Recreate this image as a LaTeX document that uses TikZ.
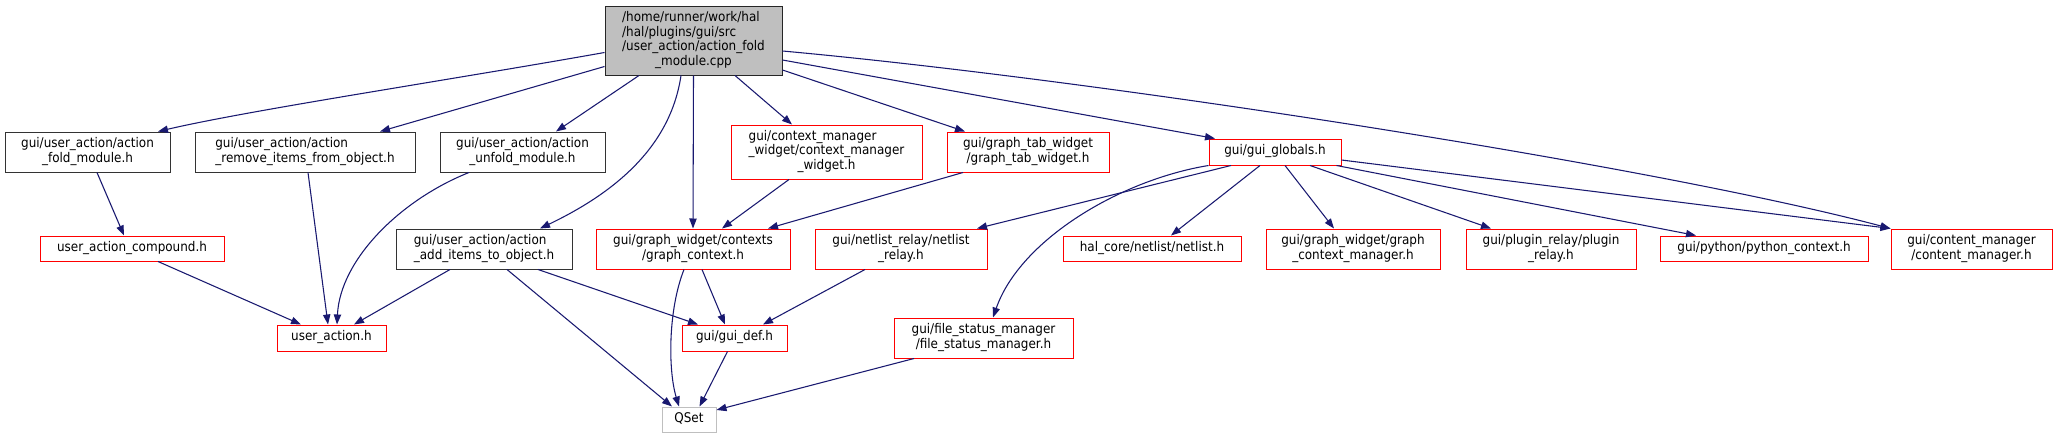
\documentclass[tikz,border=0pt]{standalone}
\usepackage{fontspec}
\setmainfont{DejaVu Sans}[FakeStretch=0.9]
\usetikzlibrary{arrows.meta,calc}
\definecolor{edgeblue}{HTML}{191970}
\definecolor{rootgray}{HTML}{BFBFBF}
\definecolor{qgray}{HTML}{BFBFBF}
\newcommand\lb[2]{\begin{tabular}{@{}l@{}}#1\multicolumn{1}{@{}c@{}}{#2}\end{tabular}}
\newcommand\nb[7]{\node[#6, minimum width={(#4-#2)*0.75pt}, minimum height={(#5-#3)*0.75pt}] (#1) at ({(#2+#4)/2},{(#3+#5)/2}) {#7};}
\begin{document}
\begin{tikzpicture}[x=0.75pt,y=-0.75pt,
  nbase/.style={rectangle, inner sep=0pt, line width=0.75pt, font=\fontsize{10}{10.7}\selectfont, fill=white},
  blk/.style={nbase, draw=black!80},
  redn/.style={nbase, draw=red},
  grayn/.style={nbase, draw=qgray},
  rootn/.style={nbase, draw=black!85, fill=rootgray},
  edge/.style={draw=edgeblue, line width=0.8pt, -{Triangle[length=7.5pt,width=5.5pt]}}
]
\useasboundingbox[fill=white] (0,0) rectangle (2057,439);

\nb{root}{605}{6}{782}{75}{rootn}{\lb{/home/runner/work/hal\\/hal/plugins/gui/src\\/user\_action/action\_fold\\}{\_module.cpp}}
\nb{fold}{5}{132}{170}{172}{blk}{\lb{gui/user\_action/action\\}{\_fold\_module.h}}
\nb{remove}{195}{132}{415}{172}{blk}{\lb{gui/user\_action/action\\}{\_remove\_items\_from\_object.h}}
\nb{unfold}{440}{132}{605}{172}{blk}{\lb{gui/user\_action/action\\}{\_unfold\_module.h}}
\nb{cmw}{731}{125}{922}{179}{redn}{\lb{gui/context\_manager\\\_widget/context\_manager\\}{\_widget.h}}
\nb{gtab}{947}{132}{1109}{172}{redn}{\lb{gui/graph\_tab\_widget\\}{/graph\_tab\_widget.h}}
\nb{globals}{1209}{139}{1341}{165}{redn}{\lb{}{gui/gui\_globals.h}}
\nb{compound}{40}{236}{224}{261}{redn}{\lb{}{user\_action\_compound.h}}
\nb{additems}{396}{229}{572}{269}{blk}{\lb{gui/user\_action/action\\}{\_add\_items\_to\_object.h}}
\nb{gctx}{596}{229}{790}{269}{redn}{\lb{gui/graph\_widget/contexts\\}{/graph\_context.h}}
\nb{nrelay}{815}{229}{987}{269}{redn}{\lb{gui/netlist\_relay/netlist\\}{\_relay.h}}
\nb{netlist}{1063}{236}{1241}{261}{redn}{\lb{}{hal\_core/netlist/netlist.h}}
\nb{gcm}{1266}{229}{1440}{269}{redn}{\lb{gui/graph\_widget/graph\\}{\_context\_manager.h}}
\nb{plugin}{1466}{229}{1636}{269}{redn}{\lb{gui/plugin\_relay/plugin\\}{\_relay.h}}
\nb{python}{1660}{236}{1868}{261}{redn}{\lb{}{gui/python/python\_context.h}}
\nb{content}{1891}{229}{2052}{269}{redn}{\lb{gui/content\_manager\\}{/content\_manager.h}}
\nb{useraction}{277}{325}{386}{351}{redn}{\lb{}{user\_action.h}}
\nb{guidef}{682}{325}{787}{351}{redn}{\lb{}{gui/gui\_def.h}}
\nb{fsm}{894}{318}{1073}{358}{redn}{\lb{gui/file\_status\_manager\\}{/file\_status\_manager.h}}
\nb{qset}{662}{407}{716}{432}{grayn}{\lb{}{QSet}}

% root edges
\draw[edge] ($(root.west)+(0,12)$) .. controls (450,80) and (250,110) .. ($(fold.north)+(70.5,0)$);
\draw[edge] ($(root.west)+(0,26)$) -- ($(remove.north)+(75,0)$);
\draw[edge] ($(root.south)+(-54.5,0)$) -- ($(unfold.north)+(33.5,0)$);
\draw[edge] ($(root.south)+(-12.5,0)$) .. controls (670,150) and (610,195) .. ($(additems.north)+(56,0)$);
\draw[edge] (root.south) -- (gctx.north);
\draw[edge] ($(root.south)+(41.5,0)$) -- ($(cmw.north)+(-34.5,0)$);
\draw[edge] ($(root.east)+(0,29.5)$) -- ($(gtab.north)+(-63,0)$);
\draw[edge] ($(root.east)+(0,19.5)$) -- ($(globals.north)+(-60,0)$);
\draw[edge] ($(root.east)+(0,10.5)$) .. controls (1100,80) and (1650,165) .. (content.north west);
% gui_globals edges
\draw[edge] ($(globals.east)+(0,8)$) -- (content.north west);
\draw[edge] ($(globals.south east)+(-5,0)$) -- ($(python.north)+(-68,0)$);
\draw[edge] ($(globals.south)+(35,0)$) -- ($(plugin.north)+(-60,0)$);
\draw[edge] ($(globals.south)+(10,0)$) -- ($(gcm.north)+(-19,0)$);
\draw[edge] ($(globals.south)+(-15,0)$) -- ($(netlist.north)+(19,0)$);
\draw[edge] ($(globals.south)+(-44,0)$) -- ($(nrelay.north)+(76,0)$);
\draw[edge] (globals.south west) .. controls (1120,180) and (1020,240) .. ($(fsm.north)+(9.5,0)$);
% second rank
\draw[edge] ($(cmw.south)+(-37.5,0)$) -- ($(gctx.north)+(29,0)$);
\draw[edge] ($(gtab.south)+(-65,0)$) -- ($(gctx.north)+(75,0)$);
\draw[edge] ($(fold.south)+(9.5,0)$) -- ($(compound.north)+(-8,0)$);
\draw[edge] ($(compound.south)+(26,0)$) -- ($(useraction.north)+(-30.5,0)$);
\draw[edge] ($(remove.south)+(3,0)$) -- ($(useraction.north)+(-3.5,0)$);
\draw[edge] ($(unfold.south)+(-53.5,0)$) .. controls (400,200) and (340,260) .. ($(useraction.north)+(5.5,0)$);
\draw[edge] ($(additems.south)+(-34,0)$) -- ($(useraction.north)+(22.5,0)$);
\draw[edge] ($(additems.south)+(23,0)$) -- ($(qset.north)+(-17,0)$);
\draw[edge] ($(additems.south)+(54,0)$) -- ($(guidef.north)+(-36.5,0)$);
\draw[edge] ($(gctx.south)+(-9,0)$) .. controls (668,310) and (668,370) .. ($(qset.north)+(-10,0)$);
\draw[edge] ($(gctx.south)+(9,0)$) -- ($(guidef.north)+(-9.5,0)$);
\draw[edge] ($(nrelay.south)+(-36,0)$) -- ($(guidef.north)+(28.5,0)$);
\draw[edge] ($(guidef.south)+(-7,0)$) -- ($(qset.north)+(10.5,0)$);
\draw[edge] ($(fsm.south)+(-69.5,0)$) -- ($(qset.east)+(0,-9.5)$);
\end{tikzpicture}
\end{document}
